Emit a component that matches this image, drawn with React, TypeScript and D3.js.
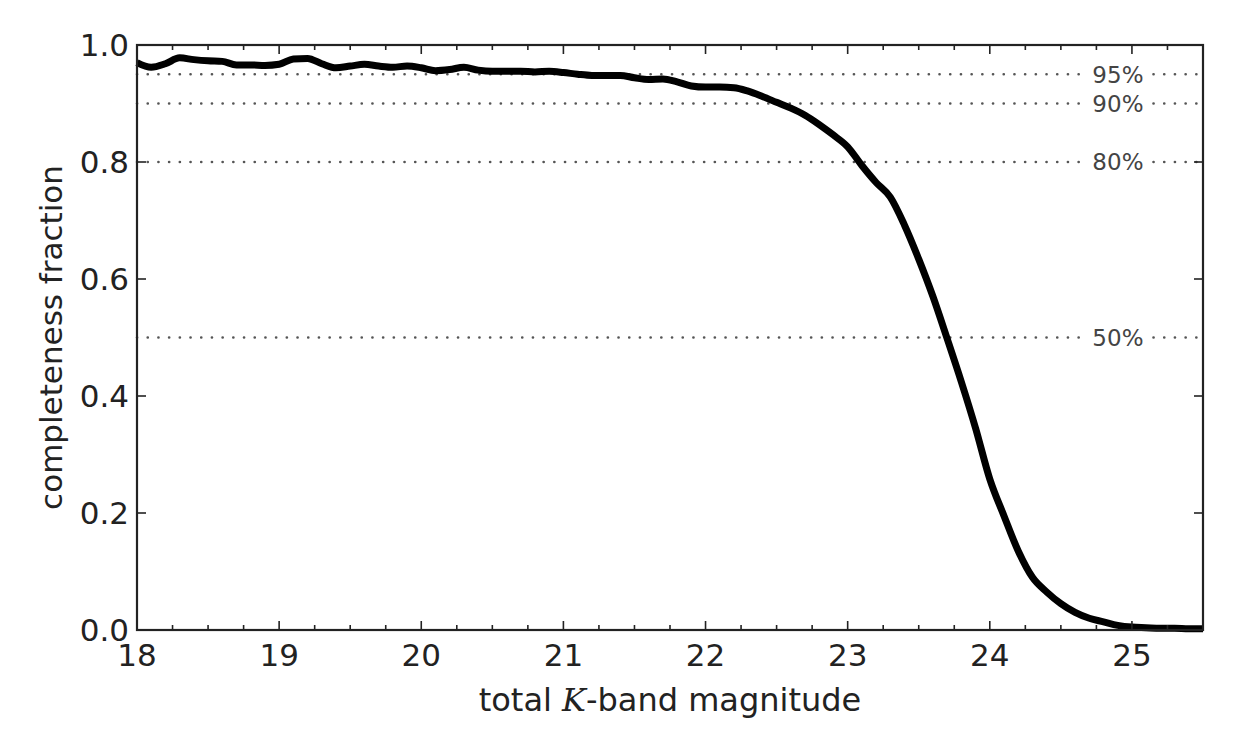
import * as d3 from "d3";
import { useEffect, useRef } from "react";

const magnitudes = [
  18.0, 18.1, 18.2, 18.3, 18.4, 18.5, 18.6, 18.7, 18.8, 18.9,
  19.0, 19.1, 19.2, 19.3, 19.4, 19.5, 19.6, 19.7, 19.8, 19.9,
  20.0, 20.1, 20.2, 20.3, 20.4, 20.5, 20.6, 20.7, 20.8, 20.9,
  21.0, 21.1, 21.2, 21.3, 21.4, 21.5, 21.6, 21.7, 21.8, 21.9,
  22.0, 22.1, 22.2, 22.3, 22.4, 22.5, 22.6, 22.7, 22.8, 22.9,
  23.0, 23.1, 23.2, 23.3, 23.4, 23.5, 23.6, 23.7, 23.8, 23.9,
  24.0, 24.1, 24.2, 24.3, 24.4, 24.5, 24.6, 24.7, 24.8, 24.9,
  25.0, 25.1, 25.2, 25.3, 25.4, 25.5,
];

const completeness = [
  0.970, 0.962, 0.968, 0.978, 0.975, 0.973, 0.972, 0.966, 0.966, 0.965,
  0.967, 0.976, 0.977, 0.968, 0.961, 0.964, 0.967, 0.964, 0.962, 0.964,
  0.961, 0.956, 0.958, 0.962, 0.957, 0.955, 0.955, 0.955, 0.954, 0.955,
  0.953, 0.950, 0.948, 0.948, 0.948, 0.944, 0.941, 0.942, 0.937, 0.930,
  0.928, 0.928, 0.927, 0.921, 0.912, 0.902, 0.892, 0.880, 0.864, 0.846,
  0.826, 0.794, 0.765, 0.740, 0.692, 0.634, 0.570, 0.498, 0.424, 0.345,
  0.258, 0.195, 0.135, 0.090, 0.065, 0.045, 0.030, 0.020, 0.014, 0.008,
  0.005, 0.004, 0.003, 0.003, 0.002, 0.002,
];

const levels = [0.95, 0.9, 0.8, 0.5];
const levelLabels = ["95%", "90%", "80%", "50%"];

const xMajorTicks = [18, 19, 20, 21, 22, 23, 24, 25];
const yTicks = [0.0, 0.2, 0.4, 0.6, 0.8, 1.0];

function drawChart(svgElement: SVGSVGElement) {
  const width = 1239;
  const height = 744;
  const margin = { top: 45, right: 36, bottom: 114, left: 137 };
  const font = "'DejaVu Sans', sans-serif";
  const svg = d3.select(svgElement);

  svg.selectAll("*").remove();
  svg.attr("width", width).attr("height", height).attr("viewBox", `0 0 ${width} ${height}`);
  svg.append("rect").attr("width", width).attr("height", height).attr("fill", "#fff");

  const x = d3.scaleLinear().domain([18, 25.5]).range([margin.left, width - margin.right]);
  const y = d3.scaleLinear().domain([0, 1]).range([height - margin.bottom, margin.top]);

  const [x0, x1] = x.range();
  const [y0, y1] = y.range();

  // reference levels, dotted
  const refs = svg.append("g");
  refs
    .selectAll("line")
    .data(levels)
    .join("line")
    .attr("x1", x0)
    .attr("x2", x1)
    .attr("y1", (d) => y(d))
    .attr("y2", (d) => y(d))
    .attr("stroke", "#555")
    .attr("stroke-width", 2.6)
    .attr("stroke-linecap", "round")
    .attr("stroke-dasharray", "0.1 10.6");

  const labelX = x(25.0) - 14;
  const labelGroups = refs
    .selectAll("g")
    .data(levels)
    .join("g")
    .attr("transform", (d) => `translate(${labelX},${y(d)})`);
  labelGroups
    .append("rect")
    .attr("x", -30)
    .attr("y", -11)
    .attr("width", 60)
    .attr("height", 22)
    .attr("fill", "#fff");
  labelGroups
    .append("text")
    .attr("text-anchor", "middle")
    .attr("dy", "0.36em")
    .attr("font-family", font)
    .attr("font-size", 23)
    .attr("fill", "#444")
    .text((_, i) => levelLabels[i]);

  // completeness curve
  const line = d3
    .line<number>()
    .x((_, i) => x(magnitudes[i]))
    .y((d) => y(d))
    .curve(d3.curveMonotoneX);

  svg
    .append("path")
    .datum(completeness)
    .attr("d", line)
    .attr("fill", "none")
    .attr("stroke", "#000")
    .attr("stroke-width", 7)
    .attr("stroke-linejoin", "round");

  // ticks pointing inward on all four sides
  const ticks = svg.append("g").attr("stroke", "#222").attr("stroke-width", 1.6);
  const xMinor = d3.range(18, 25.5001, 0.25).filter((v) => !xMajorTicks.includes(v));
  const xTickData = [
    ...xMajorTicks.map((v) => ({ v, len: 9 })),
    ...xMinor.map((v) => ({ v, len: 5 })),
  ];
  ticks
    .selectAll("line.xb")
    .data(xTickData)
    .join("line")
    .attr("class", "xb")
    .attr("x1", (d) => x(d.v))
    .attr("x2", (d) => x(d.v))
    .attr("y1", y0)
    .attr("y2", (d) => y0 - d.len);
  ticks
    .selectAll("line.xt")
    .data(xTickData)
    .join("line")
    .attr("class", "xt")
    .attr("x1", (d) => x(d.v))
    .attr("x2", (d) => x(d.v))
    .attr("y1", y1)
    .attr("y2", (d) => y1 + d.len);
  ticks
    .selectAll("line.yl")
    .data(yTicks)
    .join("line")
    .attr("class", "yl")
    .attr("x1", x0)
    .attr("x2", x0 + 9)
    .attr("y1", (d) => y(d))
    .attr("y2", (d) => y(d));
  ticks
    .selectAll("line.yr")
    .data(yTicks)
    .join("line")
    .attr("class", "yr")
    .attr("x1", x1)
    .attr("x2", x1 - 9)
    .attr("y1", (d) => y(d))
    .attr("y2", (d) => y(d));

  // frame
  svg
    .append("rect")
    .attr("x", x0)
    .attr("y", y1)
    .attr("width", x1 - x0)
    .attr("height", y0 - y1)
    .attr("fill", "none")
    .attr("stroke", "#222")
    .attr("stroke-width", 2.2);

  // tick labels
  svg
    .append("g")
    .selectAll("text")
    .data(xMajorTicks)
    .join("text")
    .attr("x", (d) => x(d))
    .attr("y", y0 + 36)
    .attr("text-anchor", "middle")
    .attr("font-family", font)
    .attr("font-size", 31)
    .attr("fill", "#222")
    .text((d) => d3.format("d")(d));

  svg
    .append("g")
    .selectAll("text")
    .data(yTicks)
    .join("text")
    .attr("x", x0 - 8)
    .attr("y", (d) => y(d))
    .attr("dy", "0.36em")
    .attr("text-anchor", "end")
    .attr("font-family", font)
    .attr("font-size", 31)
    .attr("fill", "#222")
    .text((d) => d3.format(".1f")(d));

  // axis titles
  const xTitle = svg
    .append("text")
    .attr("x", (x0 + x1) / 2)
    .attr("y", y0 + 81)
    .attr("text-anchor", "middle")
    .attr("font-family", font)
    .attr("font-size", 32)
    .attr("fill", "#222");
  xTitle.append("tspan").text("total ");
  xTitle
    .append("tspan")
    .attr("font-family", "'DejaVu Serif', serif")
    .attr("font-style", "italic")
    .text("K");
  xTitle.append("tspan").text("-band magnitude");

  svg
    .append("text")
    .attr("transform", `translate(62,${(y0 + y1) / 2}) rotate(-90)`)
    .attr("text-anchor", "middle")
    .attr("font-family", font)
    .attr("font-size", 31)
    .attr("fill", "#222")
    .text("completeness fraction");
}

export default function App() {
  const svgRef = useRef<SVGSVGElement>(null);

  useEffect(() => {
    if (svgRef.current) drawChart(svgRef.current);
  }, []);

  return (
    <div style={{ position: "absolute", left: 0, top: 0 }}>
      <svg ref={svgRef} role="img" aria-label="completeness fraction vs total K-band magnitude" style={{ display: "block" }} />
    </div>
  );
}
